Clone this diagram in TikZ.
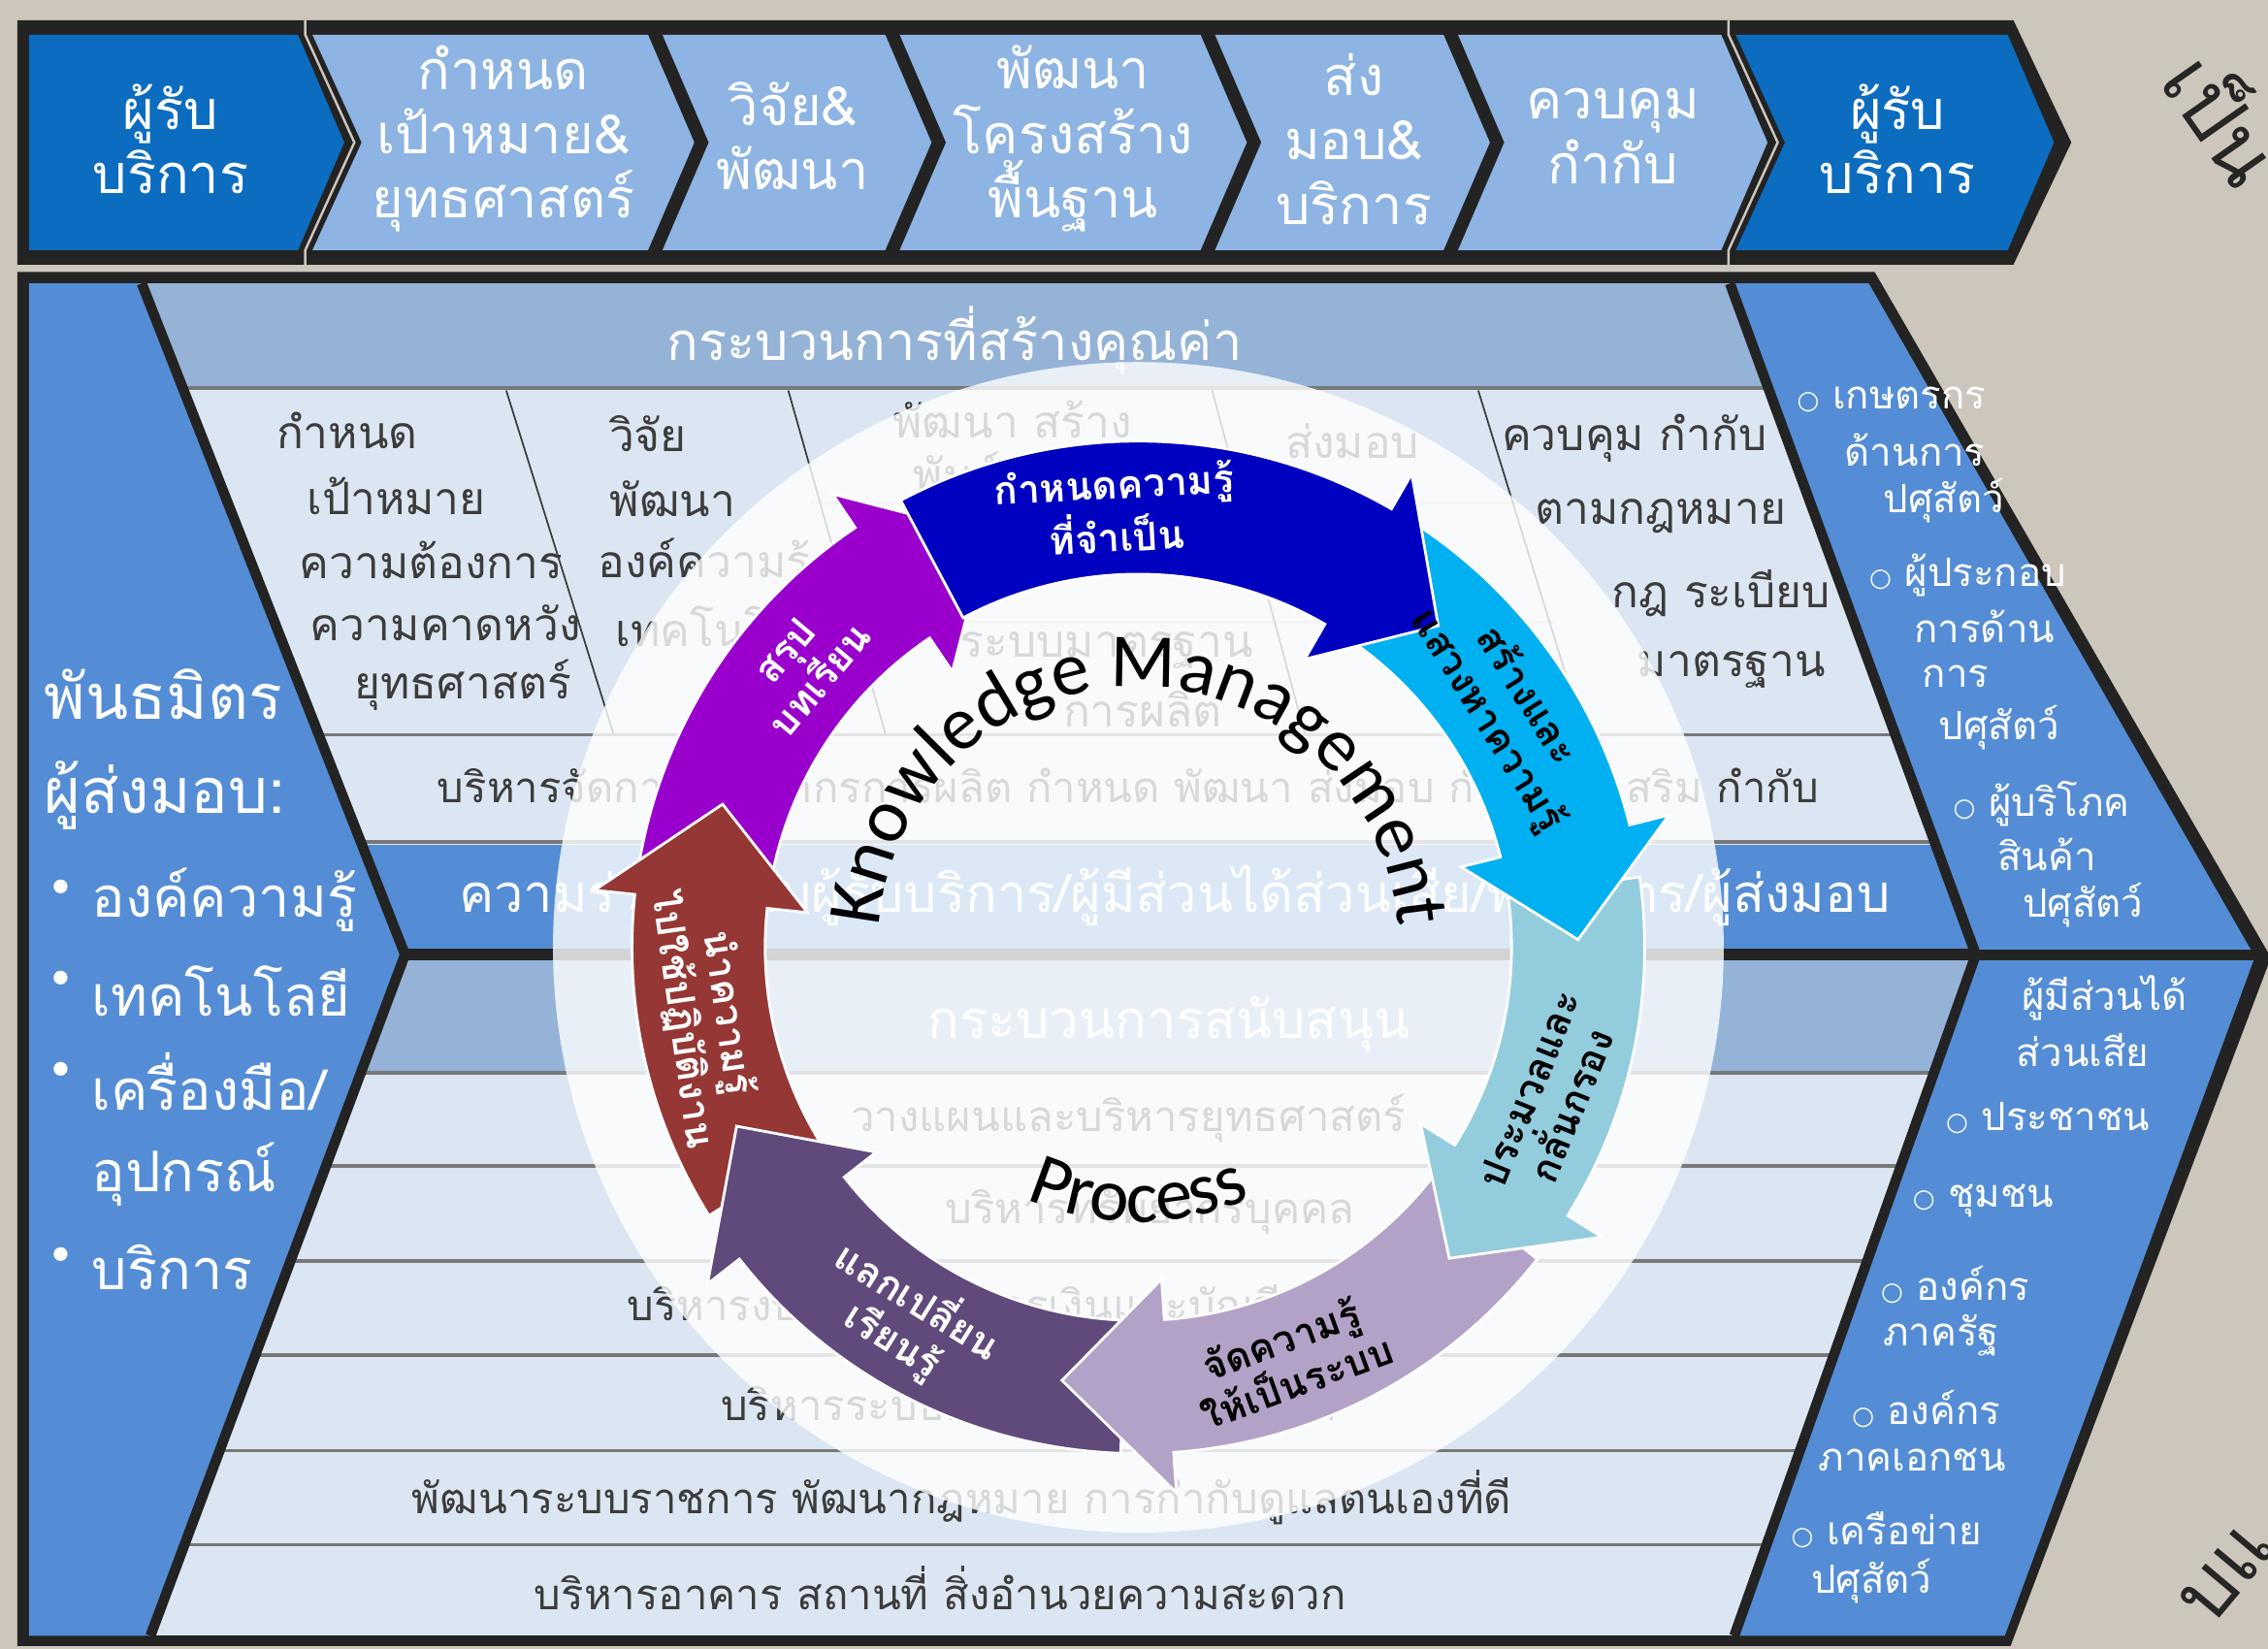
\documentclass[tikz,border=0pt]{standalone}
\usepackage{fontspec}
\setmainfont{Loma}[Script=Thai]
\newfontfamily\kmlatin{Carlito}
\newfontfamily\symfont{DejaVu Sans}
\usetikzlibrary{decorations.text}

\definecolor{bgtan}{RGB}{205,198,189}
\definecolor{framedark}{RGB}{35,35,35}
\definecolor{chevdark}{RGB}{11,108,192}
\definecolor{chevlight}{RGB}{141,180,226}
\definecolor{panelblue}{RGB}{84,141,213}
\definecolor{headblue}{RGB}{149,179,215}
\definecolor{rowlight}{RGB}{220,230,242}
\definecolor{rowline}{RGB}{120,120,120}
\definecolor{celltext}{RGB}{60,60,60}
\definecolor{kmblue}{RGB}{0,0,192}
\definecolor{kmcyan}{RGB}{0,176,240}
\definecolor{kmteal}{RGB}{147,205,221}
\definecolor{kmlav}{RGB}{179,162,199}
\definecolor{kmdpurple}{RGB}{96,74,123}
\definecolor{kmred}{RGB}{149,55,53}
\definecolor{kmpurple}{RGB}{153,0,204}

\tikzset{
  chevtext/.style={text=white, font=\fontsize{16}{19}\selectfont, align=center, inner sep=0pt},
  cell/.style={text=celltext, font=\fontsize{13.2}{18}\selectfont, inner sep=0pt},
  rowtext/.style={text=celltext, font=\fontsize{12.5}{16}\selectfont, inner sep=0pt},
  bandtext/.style={text=white, font=\fontsize{15.5}{18}\selectfont, inner sep=0pt},
  sidetext/.style={text=white, font=\fontsize{18.5}{22}\selectfont, anchor=west, inner sep=0pt},
  itemtext/.style={text=white, font=\fontsize{16.5}{20}\selectfont, anchor=west, inner sep=0pt},
  bullettext/.style={text=white, font=\symfont\fontsize{14}{14}\selectfont, inner sep=0pt},
  paneltext/.style={text=white, font=\fontsize{11.5}{14}\selectfont, inner sep=0pt},
  edgetext/.style={text=black!85, font=\fontsize{24}{24}\selectfont, inner sep=0pt},
  sepline/.style={framedark, line width=3pt},
  rowsep/.style={rowline, line width=1.1pt},
  colsep/.style={celltext, line width=0.5pt},
  kmlabel/.style={font=\bfseries\fontsize{11.5}{13.5}\selectfont, align=center, inner sep=0pt},
}

% top band chevron: style, left x, right x, notch depth
\newcommand{\chevron}[4]{\fill[#1] (#2,24) -- (#3,24) -- ({#3+32},98.5) -- (#3,173) -- (#2,173) -- ({#2+#4},98.5) -- cycle;}
% ring arrow: colour, tail angle, barb angle, tip angle
\newcommand{\kmarrow}[4]{\filldraw[fill=#1, draw=white, line width=0.8pt]
  (#2:5.25cm) arc[start angle=#2, end angle=#3, radius=5.25cm] -- (#3:5.67cm) -- (#4:4.56cm)
  -- (#3:3.45cm) -- (#3:3.87cm) arc[start angle=#3, end angle=#2, radius=3.87cm] -- cycle;}
\newcommand{\cbul}{{\symfont\fontsize{7.5}{8}\selectfont ○}\ }

\begin{document}
\begin{tikzpicture}[x=0.015cm, y=-0.015cm]
\useasboundingbox (0,0) rectangle (1568,1140);
\fill[bgtan] (0,0) rectangle (1568,1140);

% top band
\fill[framedark] (12,14) -- (1392,14) -- (1432,98.5) -- (1392,183) -- (12,183) -- cycle;
\chevron{chevdark}{20}{206}{0}
\chevron{chevlight}{216}{448}{34}
\chevron{chevlight}{458}{612}{32}
\chevron{chevlight}{622}{830}{32}
\chevron{chevlight}{840}{998}{32}
\chevron{chevlight}{1008}{1190}{32}
\chevron{chevdark}{1200}{1388}{34}
\draw[bgtan, line width=0.7pt] (211,14) -- (211,24) -- (245,98.5) -- (211,173) -- (211,183);
\draw[bgtan, line width=0.7pt] (1195,14) -- (1195,24) -- (1229,98.5) -- (1195,173) -- (1195,183);
\node[chevtext] (top1) at (118,96) {ผู้รับ\\บริการ};
\node[chevtext] (top2) at (348,96) {กำหนด\\เป้าหมาย\&\\ยุทธศาสตร์};
\node[chevtext] (top3) at (548,94) {วิจัย\&\\พัฒนา};
\node[chevtext] (top4) at (742,96) {พัฒนา\\โครงสร้าง\\พื้นฐาน};
\node[chevtext] (top5) at (936,96) {ส่ง\\มอบ\&\\บริการ};
\node[chevtext] (top6) at (1115,94) {ควบคุม\\กำกับ};
\node[chevtext] (top7) at (1312,96) {ผู้รับ\\บริการ};

% body
\fill[framedark] (12,188) -- (1296,188) -- (1570,662) -- (1390,1138) -- (12,1138) -- cycle;
\fill[panelblue] (20,196) -- (98,196) -- (280,660) -- (104,1131) -- (20,1131) -- cycle;

% value creating process
\begin{scope}
  \clip (98,196) -- (1196,196) -- (1366,656) -- (280,656) -- cycle;
  \fill[rowlight] (0,196) rectangle (1568,656);
  \fill[headblue] (0,196) rectangle (1568,268);
  \fill[panelblue] (0,584) rectangle (1568,656);
  \draw[rowsep] (0,268) -- (1568,268);
  \draw[rowsep] (0,508) -- (1568,508);
  \draw[rowsep] (0,582) -- (1568,582);
  \draw[rowline!40, line width=0.8pt] (560,348) -- (1050,348);
  \draw[rowline!40, line width=0.8pt] (585,430) -- (1075,430);
  \draw[colsep] (350,270) -- (424,507);
  \draw[colsep] (545,270) -- (612,507);
  \draw[colsep] (838,270) -- (902,507);
  \draw[colsep] (1022,270) -- (1095,507);
\end{scope}

% support process
\begin{scope}
  \clip (282,664) -- (1368,664) -- (1199,1131) -- (104,1131) -- cycle;
  \fill[rowlight] (0,664) rectangle (1568,1131);
  \fill[headblue] (0,664) rectangle (1568,742);
  \foreach \y in {742,806,872,937,1003,1068}
    \draw[rowsep] (0,\y) -- (1568,\y);
\end{scope}

\node[bandtext] (valuehead) at (660,235) {กระบวนการที่สร้างคุณค่า};
\node[cell] (c1a) at (240,298) {กำหนด};
\node[cell] (c1b) at (274,343) {เป้าหมาย};
\node[cell] (c1c) at (298,387) {ความต้องการ};
\node[cell] (c1d) at (308,431) {ความคาดหวัง};
\node[cell] (c1e) at (320,474) {ยุทธศาสตร์};
\node[cell] (c2a) at (448,300) {วิจัย};
\node[cell] (c2b) at (465,345) {พัฒนา};
\node[cell] (c2c) at (487,390) {องค์ความรู้};
\node[cell] (c2d) at (497,433) {เทคโนโลยี};
\node[cell] (c3a) at (700,290) {พัฒนา สร้าง};
\node[cell] (c3b) at (690,330) {พันธุ์สัตว์};
\node[cell] (c3c) at (765,450) {ระบบมาตรฐาน};
\node[cell] (c3d) at (790,490) {การผลิต};
\node[cell] (c4a) at (935,305) {ส่งมอบ};
\node[cell] (c5a) at (1130,303) {ควบคุม กำกับ};
\node[cell] (c5b) at (1148,357) {ตามกฎหมาย};
\node[cell] (c5c) at (1190,410) {กฎ ระเบียบ};
\node[cell] (c5d) at (1197,463) {มาตรฐาน};
\node[rowtext] (manage) at (780,543) {บริหารจัดการทรัพยากรการผลิต กำหนด พัฒนา ส่งมอบ กำกับ ส่งเสริม กำกับ};
\node[bandtext] (partners) at (812,619) {ความร่วมมือกับผู้รับบริการ/ผู้มีส่วนได้ส่วนเสีย/พันธมิตร/ผู้ส่งมอบ};

\node[bandtext] (supporthead) at (808,708) {กระบวนการสนับสนุน};
\node[rowtext] (s1) at (780,773) {วางแผนและบริหารยุทธศาสตร์};
\node[rowtext] (s2) at (795,838) {บริหารทรัพยากรบุคคล};
\node[rowtext, anchor=west] (s3) at (433,904) {บริหารงบประมาณ การเงินและบัญชี};
\node[rowtext, anchor=west] (s4) at (498,969) {บริหารระบบเทคโนโลยีสารสนเทศ};
\node[rowtext] (s5) at (665,1035) {พัฒนาระบบราชการ พัฒนากฎหมาย การกำกับดูแลตนเองที่ดี};
\node[rowtext] (s6) at (650,1098) {บริหารอาคาร สถานที่ สิ่งอำนวยความสะดวก};

% customer panels
\fill[panelblue] (1196,196) -- (1292,196) -- (1558,660) -- (1366,660) -- cycle;
\fill[panelblue] (1366,664) -- (1558,664) -- (1386,1131) -- (1199,1131) -- cycle;
\draw[sepline] (98,196) -- (280,660) -- (104,1131);
\draw[sepline] (1196,196) -- (1366,660) -- (1199,1131);
\draw[sepline] (280,660) -- (1562,660);

% supplier panel text
\node[sidetext] (partner) at (30,480) {พันธมิตร};
\node[sidetext] (supplier) at (30,550) {ผู้ส่งมอบ:};
\node[bullettext] (dot1) at (42,617) {•};
\node[itemtext] (sup1) at (63,622) {องค์ความรู้};
\node[bullettext] (dot2) at (42,680) {•};
\node[itemtext] (sup2) at (63,685) {เทคโนโลยี};
\node[bullettext] (dot3) at (42,743) {•};
\node[itemtext] (sup3) at (63,748) {เครื่องมือ/};
\node[itemtext] (sup3b) at (63,812) {อุปกรณ์};
\node[bullettext] (dot4) at (42,871) {•};
\node[itemtext] (sup4) at (63,876) {บริการ};

\node[paneltext, anchor=west] (r1) at (1242,276) {\cbul เกษตรกร};
\node[paneltext] (r1b) at (1324,311) {ด้านการ};
\node[paneltext] (r1c) at (1344,346) {ปศุสัตว์};
\node[paneltext, anchor=west] (r2) at (1292,398) {\cbul ผู้ประกอบ};
\node[paneltext] (r2b) at (1372,433) {การด้าน};
\node[paneltext] (r2c) at (1352,468) {การ};
\node[paneltext] (r2d) at (1382,503) {ปศุสัตว์};
\node[paneltext, anchor=west] (r3) at (1350,556) {\cbul ผู้บริโภค};
\node[paneltext] (r3b) at (1415,591) {สินค้า};
\node[paneltext] (r3c) at (1440,626) {ปศุสัตว์};

\node[paneltext] (q0) at (1455,690) {ผู้มีส่วนได้};
\node[paneltext] (q0b) at (1440,726) {ส่วนเสีย};
\node[paneltext, anchor=west] (q1) at (1345,773) {\cbul ประชาชน};
\node[paneltext, anchor=west] (q2) at (1322,830) {\cbul ชุมชน};
\node[paneltext, anchor=west] (q3) at (1300,888) {\cbul องค์กร};
\node[paneltext] (q3b) at (1342,923) {ภาครัฐ};
\node[paneltext, anchor=west] (q4) at (1280,974) {\cbul องค์กร};
\node[paneltext] (q4b) at (1322,1009) {ภาคเอกชน};
\node[paneltext, anchor=west] (q5) at (1238,1058) {\cbul เครือข่าย};
\node[paneltext] (q5b) at (1294,1093) {ปศุสัตว์};

\node[edgetext, rotate=-55] (edgetop) at (1540,80) {เป็น};
\node[edgetext, rotate=50] (edgebottom) at (1540,1088) {บแ};

% knowledge management cycle
\begin{scope}[shift={(787,655)}]
  \fill[white, opacity=0.8] (0,0) circle[radius=6.07cm];
  \kmarrow{kmpurple}{170}{124}{110}
  \kmarrow{kmred}{212}{174}{161}
  \kmarrow{kmdpurple}{268}{218}{204}
  \kmarrow{kmlav}{322}{274}{260}
  \kmarrow{kmteal}{8}{-32}{-45}
  \kmarrow{kmcyan}{58}{14}{1}
  \kmarrow{kmblue}{118}{60}{47}
  \node[kmlabel, text=white, rotate=3] (kmdefine) at (93:4.55cm) {กำหนดความรู้\\ที่จำเป็น};
  \node[kmlabel, text=black, rotate=-58] (kmcreate) at (33:4.55cm) {สร้างและ\\แสวงหาความรู้};
  \node[kmlabel, text=black, rotate=68] (kmrefine) at (-20:4.55cm) {ประมวลและ\\กลั่นกรอง};
  \node[kmlabel, text=black, rotate=20] (kmorganise) at (-70:4.55cm) {จัดความรู้\\ให้เป็นระบบ};
  \node[kmlabel, text=white, rotate=-32] (kmshare) at (238:4.55cm) {แลกเปลี่ยน\\เรียนรู้};
  \node[kmlabel, text=white, rotate=-82] (kmapply) at (189:4.55cm) {นำความรู้\\ไปใช้ปฏิบัติงาน};
  \node[kmlabel, text=white, rotate=50] (kmlesson) at (140:4.55cm) {สรุป\\บทเรียน};
  \path[decorate, decoration={text along path, text align=center,
      text={|\kmlatin\fontsize{22.5}{22.5}\selectfont|Knowledge Management}}]
    (180:2.7cm) arc[start angle=180, end angle=0, radius=2.7cm];
  \path[decorate, decoration={text along path, text align=center,
      text={|\kmlatin\fontsize{22}{22}\selectfont|Process}}]
    (-130:2.85cm) arc[start angle=-130, end angle=-50, radius=2.85cm];
\end{scope}
\end{tikzpicture}
\end{document}
